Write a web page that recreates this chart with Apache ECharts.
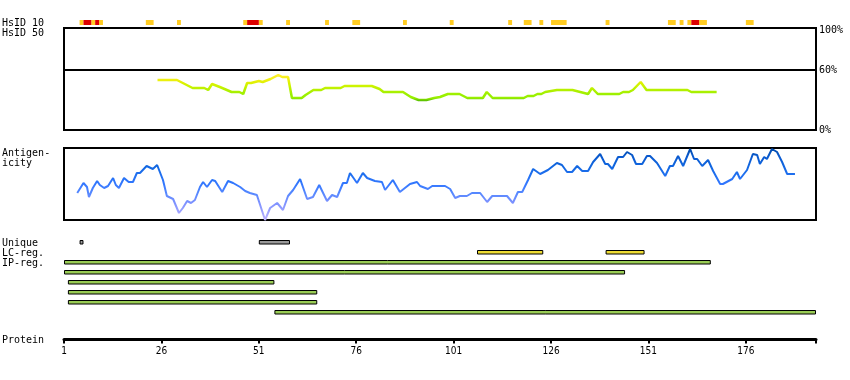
<!DOCTYPE html>
<html><head><meta charset="utf-8">
<script src="https://cdn.jsdelivr.net/npm/echarts@6/dist/echarts.min.js"></script>
<style>html,body{margin:0;padding:0;background:#fff}#c{width:850px;height:380px}</style>
</head><body><div id="c"></div>
<script>
// ---------- data ----------
const proteinEnd = 194;
const tickResidues = [1, 26, 51, 76, 101, 126, 151, 176];
const hsid10Orange = [[5,5],[8,8],[10,10],[22,23],[30,30],[47,47],[51,51],[58,58],[68,68],[75,76],[88,88],[100,100],[115,115],[119,120],[123,123],[126,129],[140,140],[156,157],[159,159],[161,161],[164,165],[176,177]];
const hsid10Red = [[6,7],[9,9],[48,50],[162,163]];
const hsid50Res = [25,30,31,34,37,38,39,41,44,46,47,48,49,51,52,54,56,57,58.5,59.5,62,63,65,67,68,72,73,80,82,83,88,90,92,94,96,97.5,99.5,101,101.5,102.5,104.5,108.5,109.5,111,119,120,121.5,122.5,123.5,124.5,127.5,131.5,132,133.5,134,135.5,136.5,138,143.5,144.5,146,147,147.5,149,149.5,150.5,161,162,168.5];
const hsid50Val = [50,50,48,42,42,40,46,43,38,38,36,47,47,49,48,51,55,53,53,32,32,35,40,40,42,42,44,44,41,38,38,33,30,30,32,33,36,36,34,36,32,32,38,32,32,34,34,36,36,38,40,40,38,38,36,36,42,36,36,38,38,40,40,48,48,40,40,38,38];
const antigenRes = [4.4,6.0,6.9,7.4,8.4,9.5,10.2,11.3,12.3,13.6,14.3,15.1,16.4,17.6,18.7,19.7,20.5,22.2,23.8,24.9,25.4,26.4,27.4,29.0,30.5,31.5,32.6,33.6,34.6,35.9,36.7,37.7,39.0,39.8,41.6,43.1,44.4,46.2,47.5,48.7,50.5,50.8,52.6,53.9,55.7,57.2,58.5,59.8,61.6,63.4,64.9,66.5,68.5,69.8,71.1,72.6,73.6,74.4,76.2,77.7,78.8,80.8,82.6,83.4,85.4,87.2,89.8,91.6,92.4,94.4,95.5,98.8,100.1,101.4,102.6,104.4,105.7,107.8,109.6,110.9,114.7,116.2,117.5,118.6,120.1,121.4,123.2,125.2,125.7,127.5,128.8,130.1,131.4,132.7,134.0,135.5,136.8,138.6,139.9,140.6,141.7,143.2,144.5,145.5,146.8,147.8,149.4,150.6,151.4,153.2,155.3,156.5,157.3,158.6,159.9,161.7,162.7,163.5,164.8,166.3,167.6,169.4,170.1,172.5,173.7,174.5,176.3,177.8,178.9,179.6,180.7,181.4,182.7,184.0,185.3,186.6,188.6];
const antigenVal = [27,37,33,23,32,39,35,32,34,42,35,32,42,38,38,47,47,54,51,55,53,40,24,21,7,12,19,17,20,33,38,33,40,39,28,39,37,33,29,27,25,24,0,12,17,10,24,30,41,21,23,35,19,25,23,37,37,47,37,47,42,39,38,30,40,28,36,38,34,31,34,34,31,22,24,24,27,27,18,24,24,17,28,28,40,51,46,50,51,57,55,48,48,54,49,49,58,66,56,56,51,63,63,68,65,56,56,64,64,57,44,54,54,64,54,71,61,61,54,60,49,36,36,41,48,41,50,66,65,56,63,61,71,68,58,46,46];
const uniqueRegions = [[5,5],[51,58]];
const lcRegions = [[107,123],[140,149]];
const ipRegions = [[1,166],[1,144],[2,54],[2,65],[2,65],[55,193]];
const hsid50Labels = [0, 60, 100];

// ---------- chart ----------
const mono = '"DejaVu Sans Mono", monospace';
const narrow = '"Liberation Sans Narrow", "DejaVu Sans Condensed", sans-serif';
const L = 64, W = 752;
function hiddenX(i){ return {gridIndex:i, type:'value', min:1, max:proteinEnd, show:false}; }

function blockItem(params, api){
  const s = api.value(0), e = api.value(1);
  const p0 = api.coord([s, 1]), p1 = api.coord([e + 1, 0]);
  return {type:'rect', shape:{x:p0[0], y:p0[1], width:p1[0]-p0[0], height:p1[1]-p0[1]}, style:{fill: api.visual('color')}};
}
function barItem(params, api){
  const s = api.value(0), e = api.value(1), r = api.value(2);
  const p0 = api.coord([s, r]), p1 = api.coord([e + 1, r]);
  return {type:'rect', shape:{x:p0[0]+0.5, y:p0[1]+0.5, width:Math.max(1, p1[0]-p0[0]-1), height:3.5},
          style:{fill: api.visual('color'), stroke:'#000', lineWidth:1}};
}

const option = {
  animation:false,
  grid:[
    {left:L, width:W, top:20, height:5},
    {left:L, width:W, top:28, height:102, show:true, borderColor:'#000', borderWidth:2},
    {left:L, width:W, top:148, height:72, show:true, borderColor:'#000', borderWidth:2},
    {left:L, width:W, top:240, height:80},
    {left:L, width:W, top:338.5, height:1}
  ],
  xAxis:[hiddenX(0), hiddenX(1), hiddenX(2), hiddenX(3),
    {gridIndex:4, type:'value', min:1, max:proteinEnd, position:'bottom',
     axisLine:{show:true, onZero:false, lineStyle:{color:'#000', width:3}},
     axisTick:{show:true, length:4, lineStyle:{color:'#000', width:2}, customValues: tickResidues.concat([proteinEnd])},
     axisLabel:{customValues: tickResidues, color:'#000', fontSize:10, fontFamily:narrow, margin:7},
     splitLine:{show:false}}
  ],
  yAxis:[
    {gridIndex:0, type:'value', min:0, max:1, show:false},
    {gridIndex:1, type:'value', min:0, max:102, position:'right',
     axisLine:{show:false}, axisTick:{show:false}, splitLine:{show:false},
     axisLabel:{customValues: hsid50Labels, formatter:'{value}%', color:'#000', fontSize:10, fontFamily:mono, margin:3}},
    {gridIndex:2, type:'value', min:0, max:72, show:false},
    {gridIndex:3, type:'value', min:0, max:8, inverse:true, show:false},
    {gridIndex:4, type:'value', min:0, max:1, show:false}
  ],
  visualMap:[
    {type:'continuous', show:false, seriesIndex:2, dimension:1, min:29, max:56,
     inRange:{color:['#55bb00','#99f000','#99f000','#a8f000','#bbf000','#ccf500','#ddf000','#eef010','#f8f020','#fff030']}},
    {type:'continuous', show:false, seriesIndex:3, dimension:1, min:0, max:72,
     inRange:{color:['#c0b4ff','#9aa0ff','#7a90ff','#5588ff','#3377ff','#2070f0','#1166e0','#0a5ad0','#004aa8']}}
  ],
  series:[
    {type:'custom', xAxisIndex:0, yAxisIndex:0, renderItem:blockItem, itemStyle:{color:'#ffcc22'}, data:hsid10Orange},
    {type:'custom', xAxisIndex:0, yAxisIndex:0, renderItem:blockItem, itemStyle:{color:'#dd0000'}, data:hsid10Red},
    {type:'line', xAxisIndex:1, yAxisIndex:1, showSymbol:false, lineStyle:{width:2.5},
     data: hsid50Res.map((r,i)=>[r, hsid50Val[i]]),
     markLine:{silent:true, symbol:['none','none'], label:{show:false}, lineStyle:{color:'#000', width:2, type:'solid'}, data:[{yAxis:60}]}},
    {type:'line', xAxisIndex:2, yAxisIndex:2, showSymbol:false, lineStyle:{width:2},
     data: antigenRes.map((r,i)=>[r, antigenVal[i]])},
    {type:'custom', xAxisIndex:3, yAxisIndex:3, renderItem:barItem, itemStyle:{color:'#999999'},
     data: uniqueRegions.map(d=>[d[0], d[1], 0])},
    {type:'custom', xAxisIndex:3, yAxisIndex:3, renderItem:barItem, itemStyle:{color:'#eedc33'},
     data: lcRegions.map(d=>[d[0], d[1], 1])},
    {type:'custom', xAxisIndex:3, yAxisIndex:3, renderItem:barItem, itemStyle:{color:'#99cc55'},
     data: ipRegions.map((d,i)=>[d[0], d[1], 2+i])}
  ],
  graphic:[
    ['HsID 10', 23], ['HsID 50', 33], ['Antigen-', 153], ['icity', 163],
    ['Unique', 243], ['LC-reg.', 253], ['IP-reg.', 263], ['Protein', 340]
  ].map(t=>({type:'text', x:2, y:t[1], silent:true,
     style:{text:t[0], font:'10px ' + mono, fill:'#000', verticalAlign:'middle', align:'left'}}))
};
const chart = echarts.init(document.getElementById('c'), null, {renderer:'canvas'});
chart.setOption(option);
</script>
</body></html>
